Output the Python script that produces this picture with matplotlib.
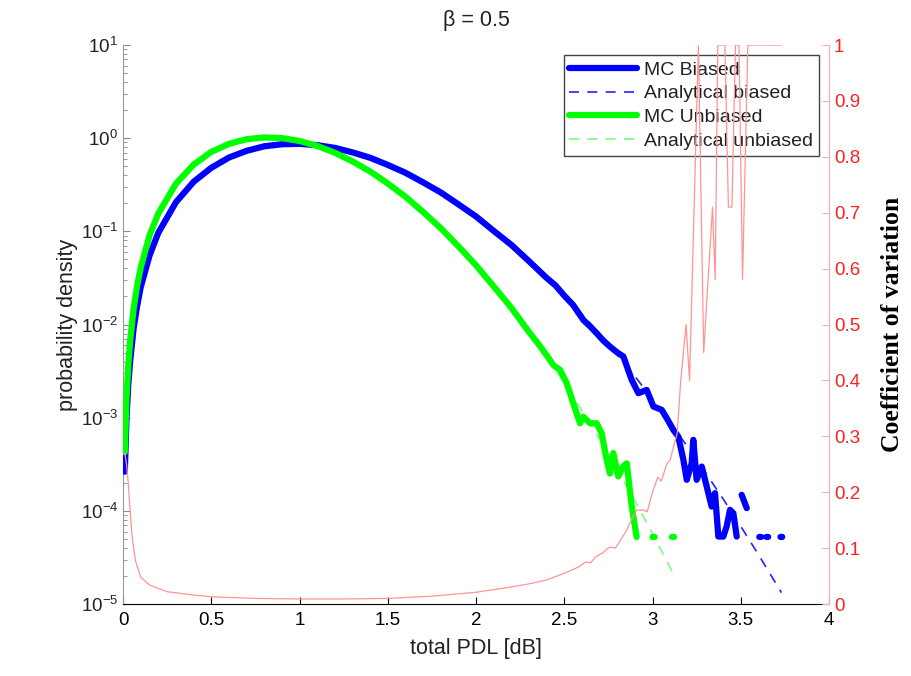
import numpy as np
import matplotlib
matplotlib.use("Agg")
import matplotlib.pyplot as plt
from matplotlib.ticker import LogLocator, NullFormatter

plt.rcParams['font.family'] = ['Liberation Sans', 'DejaVu Sans']
plt.rcParams['mathtext.fontset'] = 'custom'
plt.rcParams['mathtext.rm'] = 'Liberation Sans'

# grid for the analytical curves (total PDL in dB)
x_ana = np.array([0.01, 0.02, 0.03, 0.04, 0.06, 0.08, 0.10, 0.15, 0.20, 0.30, 0.40, 0.50,
                  0.60, 0.70, 0.80, 0.90, 1.00, 1.10, 1.20, 1.30, 1.40, 1.50, 1.60, 1.70,
                  1.80, 1.90, 2.00, 2.10, 2.20, 2.30, 2.40, 2.50, 2.60, 2.70, 2.80, 2.90,
                  3.00, 3.10, 3.13, 3.20, 3.30, 3.40, 3.50, 3.60, 3.70, 3.73])

# analytical pdfs, log10 of probability density
ana_biased_log = np.array([-3.60, -3.00, -2.65, -2.40, -2.05, -1.80, -1.60, -1.26, -1.02, -0.69,
                           -0.47, -0.32, -0.21, -0.135, -0.088, -0.065, -0.061, -0.075, -0.105,
                           -0.151, -0.212, -0.286, -0.373, -0.472, -0.584, -0.708, -0.843,
                           -0.990, -1.148, -1.318, -1.498, -1.688, -1.890, -2.101, -2.324,
                           -2.556, -2.799, -3.052, -3.13, -3.316, -3.589, -3.872, -4.166,
                           -4.469, -4.782, -4.878])
ana_unbiased_log = np.array([-3.38, -2.78, -2.43, -2.18, -1.83, -1.58, -1.39, -1.047, -0.808,
                             -0.488, -0.284, -0.148, -0.061, -0.011, 0.009, 0.001, -0.030,
                             -0.083, -0.156, -0.248, -0.358, -0.486, -0.630, -0.790, -0.967,
                             -1.159, -1.366, -1.589, -1.826, -2.078, -2.345, -2.626, -2.921,
                             -3.231, -3.555, -3.892, -4.244, -4.610, -4.722, np.nan, np.nan,
                             np.nan, np.nan, np.nan, np.nan, np.nan])

# Monte Carlo histograms (log10 density), nan = empty bins
x_mc_b = np.array([0.01, 0.02, 0.03, 0.04, 0.06, 0.08, 0.10, 0.15, 0.20, 0.30, 0.40, 0.50,
                   0.60, 0.70, 0.80, 0.90, 1.00, 1.10, 1.20, 1.30, 1.40, 1.50, 1.60, 1.70,
                   1.80, 1.90, 2.00, 2.10, 2.20, 2.30, 2.40, 2.45, 2.50, 2.55, 2.608, 2.646,
                   2.684, 2.72, 2.759, 2.80, 2.835, 2.882, 2.92, 2.967, 3.005, 3.052, 3.085,
                   3.118, 3.146, 3.175, 3.194, 3.222, 3.231, 3.25, 3.279, 3.307, 3.335, 3.354,
                   3.373, 3.401, 3.42, 3.439, 3.458, 3.477, 3.49, 3.505, 3.534, 3.56, 3.605,
                   3.615, 3.63, 3.645, 3.655, 3.70, 3.725, 3.735])
mc_b_log = np.array([-3.58, -2.99, -2.64, -2.40, -2.04, -1.80, -1.60, -1.26, -1.015, -0.687,
                     -0.468, -0.318, -0.208, -0.136, -0.087, -0.065, -0.061, -0.075, -0.104,
                     -0.152, -0.210, -0.287, -0.371, -0.474, -0.582, -0.71, -0.84, -0.995,
                     -1.145, -1.32, -1.50, -1.58, -1.69, -1.79, -1.951, -2.02, -2.094, -2.17,
                     -2.237, -2.30, -2.344, -2.594, -2.737, -2.702, -2.88, -2.916, -3.02,
                     -3.131, -3.203, -3.453, -3.667, -3.488, -3.238, -3.667, -3.525, -3.739,
                     -3.954, -3.81, -4.276, -4.276, -4.168, -3.989, -4.025, -4.276, np.nan,
                     -3.828, -3.971, np.nan, -4.28, -4.28, np.nan, -4.28, -4.28, np.nan,
                     -4.28, -4.28])

x_mc_u = np.array([0.01, 0.02, 0.03, 0.04, 0.06, 0.08, 0.10, 0.15, 0.20, 0.30, 0.40, 0.50,
                   0.60, 0.70, 0.80, 0.90, 1.00, 1.10, 1.20, 1.30, 1.40, 1.50, 1.60, 1.70,
                   1.80, 1.90, 2.00, 2.10, 2.20, 2.30, 2.35, 2.40, 2.44, 2.476, 2.514, 2.551,
                   2.589, 2.608, 2.646, 2.684, 2.712, 2.74, 2.759, 2.778, 2.806, 2.835, 2.854,
                   2.882, 2.91, 2.95, 3.0, 3.012, 3.06, 3.11, 3.122])
mc_u_log = np.array([-3.37, -2.78, -2.43, -2.18, -1.83, -1.58, -1.39, -1.045, -0.808, -0.488,
                     -0.284, -0.147, -0.061, -0.011, 0.008, 0.001, -0.030, -0.083, -0.156,
                     -0.249, -0.357, -0.486, -0.628, -0.792, -0.965, -1.16, -1.365, -1.59,
                     -1.82, -2.08, -2.20, -2.33, -2.44, -2.487, -2.63, -2.845, -3.06, -2.99,
                     -3.06, -3.06, -3.17, -3.45, -3.60, -3.38, -3.63, -3.52, -3.49, -3.95,
                     -4.28, np.nan, -4.28, -4.28, np.nan, -4.28, -4.28])

# coefficient of variation of the biased estimate
x_cv = np.array([0.01, 0.02, 0.03, 0.04, 0.05, 0.07, 0.10, 0.15, 0.25, 0.40, 0.50, 0.75,
                 1.00, 1.25, 1.50, 1.75, 2.00, 2.15, 2.30, 2.40, 2.50, 2.58, 2.62, 2.65,
                 2.68, 2.72, 2.74, 2.76, 2.79, 2.82, 2.85, 2.88, 2.91, 2.95, 2.97, 3.00,
                 3.03, 3.05, 3.08, 3.10, 3.14, 3.16, 3.19, 3.21, 3.26, 3.29, 3.34, 3.355,
                 3.37, 3.41, 3.43, 3.45, 3.47, 3.49, 3.51, 3.54, 3.73])
cv = np.array([0.27, 0.25, 0.215, 0.168, 0.125, 0.078, 0.048, 0.034, 0.022, 0.016, 0.013,
               0.010, 0.009, 0.009, 0.010, 0.014, 0.021, 0.028, 0.036, 0.043, 0.055, 0.066,
               0.075, 0.074, 0.085, 0.092, 0.098, 0.102, 0.100, 0.115, 0.130, 0.150, 0.168,
               0.168, 0.165, 0.200, 0.227, 0.220, 0.250, 0.258, 0.306, 0.400, 0.500, 0.400,
               1.0, 0.45, 0.71, 0.58, 1.0, 1.0, 0.71, 0.71, 1.0, 1.0, 0.58, 1.0, 1.0])

x_ticks = [0, 0.5, 1, 1.5, 2, 2.5, 3, 3.5, 4]
x_tick_labels = ['0', '0.5', '1', '1.5', '2', '2.5', '3', '3.5', '4']
cv_ticks = [0, 0.1, 0.2, 0.3, 0.4, 0.5, 0.6, 0.7, 0.8, 0.9, 1.0]
cv_tick_labels = ['0', '0.1', '0.2', '0.3', '0.4', '0.5', '0.6', '0.7', '0.8', '0.9', '1']

fig = plt.figure(figsize=(9.12, 6.76), dpi=100)
ax = fig.add_axes([0.1349, 0.1065, 0.7741, 0.8269])

ax.plot(x_mc_b, 10 ** mc_b_log, color='#0000ff', lw=4.5, solid_capstyle='round',
        label='MC Biased', zorder=3)
ax.plot(x_ana, 10 ** ana_biased_log, color='#2222ff', lw=1.2, dashes=(6, 5),
        label='Analytical biased', zorder=2)
ax.plot(x_mc_u, 10 ** mc_u_log, color='#00ff00', lw=4.5, solid_capstyle='round',
        label='MC Unbiased', zorder=3)
ax.plot(x_ana, 10 ** ana_unbiased_log, color='#77ff77', lw=1.2, dashes=(6, 5),
        label='Analytical unbiased', zorder=2)

ax.set_yscale('log')
ax.set_ylim(1e-5, 10)
ax.set_xlim(0, 4)
ax.yaxis.set_minor_locator(LogLocator(base=10, subs=np.arange(2, 10), numticks=100))
ax.yaxis.set_minor_formatter(NullFormatter())
ax.set_xticks(x_ticks)
ax.set_xticklabels(x_tick_labels)

ax.tick_params(which='both', direction='in', top=False, right=False)
ax.tick_params(axis='x', length=5, labelsize=13.5, colors='black', pad=6)
ax.tick_params(axis='y', which='major', length=5, labelsize=13.5, color='#888888',
               labelcolor='#222222')
ax.tick_params(axis='y', which='minor', length=3, color='#888888')
ax.spines['top'].set_visible(False)
ax.spines['right'].set_visible(False)
ax.spines['left'].set_color('#999999')
ax.spines['bottom'].set_color('black')

ax.set_xlabel('total PDL [dB]', fontsize=15.5, color='#222222', labelpad=6)
ax.set_ylabel('probability density', fontsize=15.5, color='#222222', labelpad=2)
ax.set_title('β = 0.5', fontsize=15.5, color='#222222', pad=14)

leg = ax.legend(loc='upper right', bbox_to_anchor=(0.986, 0.982), fontsize=14,
                handlelength=3.5, handletextpad=0.35, labelspacing=0.32, borderpad=0.3,
                borderaxespad=0, fancybox=False, framealpha=1, edgecolor='#444444')
leg.get_frame().set_linewidth(1.0)
for t in leg.get_texts():
    t.set_color('#222222')

# right axis: coefficient of variation
ax2 = ax.twinx()
ax2.plot(x_cv, cv, color='#ff9494', lw=0.9)
ax2.set_ylim(0, 1)
ax2.set_xlim(0, 4)
ax2.set_yticks(cv_ticks)
ax2.set_yticklabels(cv_tick_labels)
ax2.tick_params(axis='y', direction='in', length=5, labelsize=13.5, color='#ffaaaa',
                labelcolor='#ff2020')
for side in ['top', 'left', 'bottom']:
    ax2.spines[side].set_visible(False)
ax2.spines['right'].set_color('#ffaaaa')
ax2.set_ylabel('Coefficient of variation', fontsize=18.5, fontweight='bold',
               family='Liberation Serif', color='black', labelpad=15)

fig.savefig('out.png', dpi=100)
